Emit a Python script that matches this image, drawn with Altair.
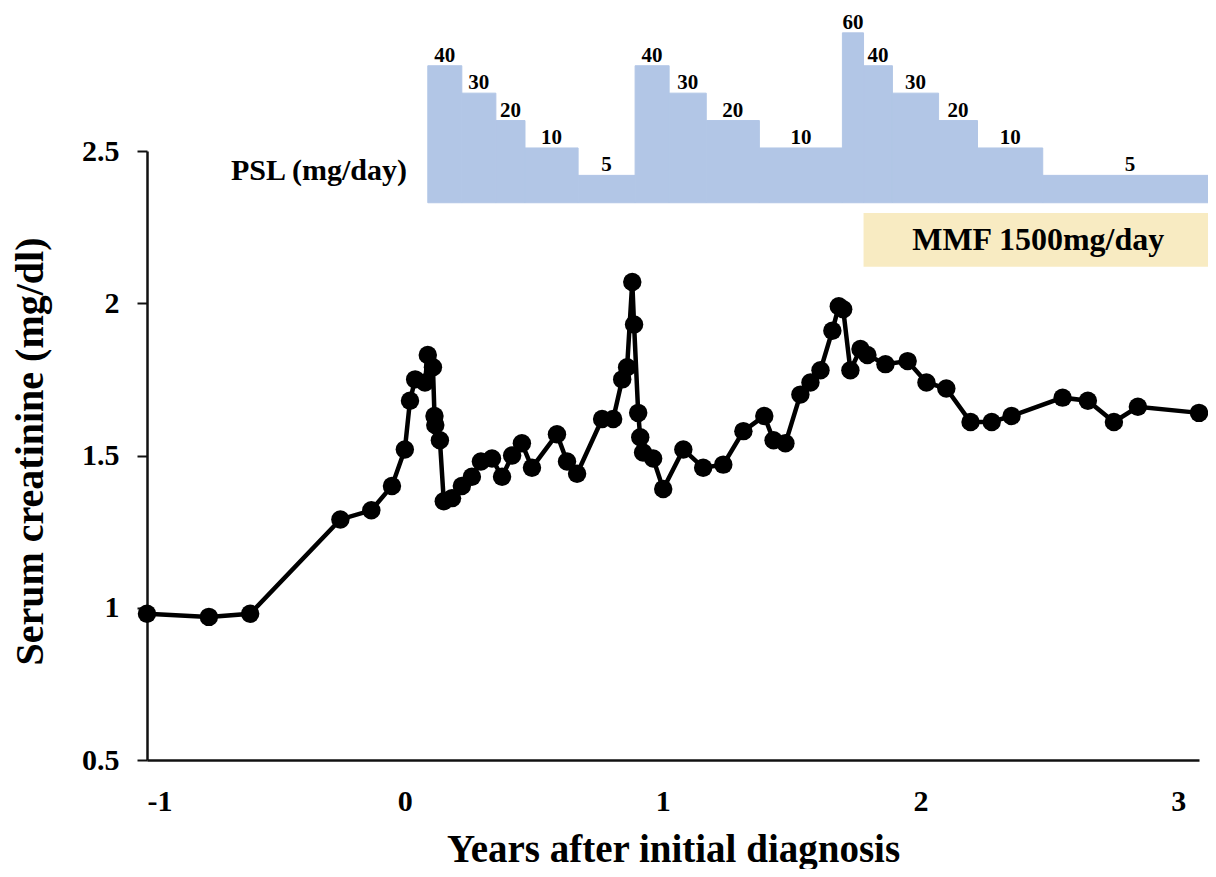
import altair as alt
import pandas as pd

# ---- serum creatinine series (years after initial diagnosis, mg/dl) ----
years = [-1.0, -0.76, -0.60, -0.25, -0.13, -0.05,
         0.00, 0.02, 0.04, 0.078, 0.089, 0.109,
         0.115, 0.118, 0.136, 0.151, 0.183, 0.221,
         0.26, 0.295, 0.338, 0.377, 0.416, 0.454,
         0.493, 0.590, 0.629, 0.668, 0.765, 0.808,
         0.843, 0.862, 0.882, 0.889, 0.905, 0.913,
         0.924, 0.963, 1.002, 1.08, 1.157, 1.235,
         1.313, 1.394, 1.43, 1.476, 1.534, 1.573,
         1.612, 1.658, 1.683, 1.70, 1.728, 1.767,
         1.794, 1.864, 1.95, 2.023, 2.10, 2.194,
         2.276, 2.353, 2.551, 2.649, 2.75, 2.843,
         3.08]
creatinine = [0.98, 0.97, 0.98, 1.29, 1.32, 1.40,
              1.52, 1.68, 1.75, 1.74, 1.83, 1.79,
              1.63, 1.60, 1.55, 1.35, 1.36, 1.40,
              1.43, 1.48, 1.49, 1.43, 1.50, 1.54,
              1.46, 1.57, 1.48, 1.44, 1.62, 1.62,
              1.75, 1.79, 2.07, 1.93, 1.64, 1.56,
              1.51, 1.49, 1.39, 1.52, 1.46, 1.47,
              1.58, 1.63, 1.55, 1.54, 1.70, 1.74,
              1.78, 1.91, 1.99, 1.98, 1.78, 1.85,
              1.83, 1.80, 1.81, 1.74, 1.72, 1.61,
              1.61, 1.63, 1.69, 1.68, 1.61, 1.66,
              1.64]

# ---- PSL (prednisolone) taper steps ----
psl_start = [0.089, 0.221, 0.353, 0.466, 0.672,
             0.893, 1.025, 1.169, 1.375,
             1.697, 1.779, 1.891, 2.070, 2.221, 2.474]
psl_end = psl_start[1:] + [3.15]
psl_dose = [40, 30, 20, 10, 5,
            40, 30, 20, 10,
            60, 40, 30, 20, 10, 5]

# ---- MMF period ----
mmf_start = [1.779]
mmf_end = [3.134]
mmf_text = ["MMF 1500mg/day"]

# ---- tick labels ----
x_ticks = [-1, 0, 1, 2, 3]
y_ticks = [0.5, 1, 1.5, 2, 2.5]

# display layout of the PSL band (drawn in creatinine-axis units above the plot)
PSL_BASE = 2.33
PSL_STEP = 0.09
dose_rank = {5: 1, 10: 2, 20: 3, 30: 4, 40: 5, 60: 6.2}
MMF_LOW, MMF_HIGH = 2.12, 2.296

FONT = "Liberation Serif"
BLUE = "#b2c6e6"

cr = pd.DataFrame({"year": years, "value": creatinine, "order": range(len(years))})
psl = pd.DataFrame({
    "year": psl_start,
    "year_end": psl_end,
    "dose": psl_dose,
})
psl["top"] = [PSL_BASE + dose_rank[d] * PSL_STEP for d in psl_dose]
psl["base"] = PSL_BASE
psl["mid"] = (psl["year"] + psl["year_end"]) / 2
psl["label"] = psl["dose"].astype(str)

mmf = pd.DataFrame({"year": mmf_start, "year_end": mmf_end, "label": mmf_text,
                    "low": [MMF_LOW], "high": [MMF_HIGH]})
mmf["mid"] = (mmf["year"] + mmf["year_end"]) / 2
mmf["center"] = (mmf["low"] + mmf["high"]) / 2

ann = pd.DataFrame({"year": [0.008], "value": [2.405], "label": ["PSL (mg/day)"]})

xscale = alt.Scale(domain=[-1, 3.08], nice=False, zero=False)
yscale = alt.Scale(domain=[0.5, 2.5], nice=False, zero=False)

xaxis = alt.Axis(values=x_ticks, labelExpr="'' + datum.value", ticks=False, grid=False,
                 domainColor="#111111", domainWidth=2.5,
                 labelFont=FONT, labelFontWeight="bold", labelFontSize=30,
                 labelColor="#000000", labelPadding=26,
                 title="Years after initial diagnosis", titleFont=FONT,
                 titleFontWeight="bold", titleFontSize=39, titleColor="#000000",
                 titleY=101, titleBaseline="alphabetic")
yaxis = alt.Axis(values=y_ticks, format=".1~f", grid=False,
                 domainColor="#111111", domainWidth=2.5,
                 tickColor="#111111", tickWidth=2, tickSize=10,
                 labelFont=FONT, labelFontWeight="bold", labelFontSize=30,
                 labelColor="#000000", labelPadding=18,
                 title="Serum creatinine (mg/dl)", titleFont=FONT,
                 titleFontWeight="bold", titleFontSize=40, titleColor="#000000",
                 titleAngle=-90, titleX=-117, titleY=300,
                 titleAlign="center", titleBaseline="middle")

X = lambda f: alt.X(f, type="quantitative", scale=xscale, axis=xaxis)
Y = lambda f: alt.Y(f, type="quantitative", scale=yscale, axis=yaxis)

psl_bars = alt.Chart(psl).mark_rect(color=BLUE, stroke=BLUE, strokeWidth=1).encode(
    x=X("year"), x2="year_end", y=Y("top"), y2="base")

psl_labels = alt.Chart(psl).mark_text(
    font=FONT, fontWeight="bold", fontSize=21, baseline="alphabetic",
    align="center", dy=-4, color="#000000").encode(
    x=X("mid"), y=Y("top"), text="label")

mmf_box = alt.Chart(mmf).mark_rect(color="#f8ebc2").encode(
    x=X("year"), x2="year_end", y=Y("high"), y2="low")

mmf_label = alt.Chart(mmf).mark_text(
    font=FONT, fontWeight="bold", fontSize=32, baseline="middle",
    align="center", color="#000000").encode(
    x=X("mid"), y=Y("center"), text="label")

psl_title = alt.Chart(ann).mark_text(
    font=FONT, fontWeight="bold", fontSize=30, baseline="alphabetic",
    align="right", color="#000000").encode(
    x=X("year"), y=Y("value"), text="label")

line = alt.Chart(cr).mark_line(color="#000000", strokeWidth=4.5).encode(
    x=X("year"), y=Y("value"), order="order:Q")

points = alt.Chart(cr).mark_point(filled=True, color="#000000", size=340,
                                  opacity=1).encode(
    x=X("year"), y=Y("value"))

chart = alt.layer(
    psl_bars, psl_labels, mmf_box, mmf_label, psl_title, line, points
).properties(
    width=1052, height=609,
    padding={"left": 139, "top": 143, "right": 9, "bottom": 109},
    autosize=alt.AutoSizeParams(type="none"),
    background="#ffffff",
).configure_view(stroke=None)

chart.save("out.html", embed_options={"renderer": "svg", "actions": False})
